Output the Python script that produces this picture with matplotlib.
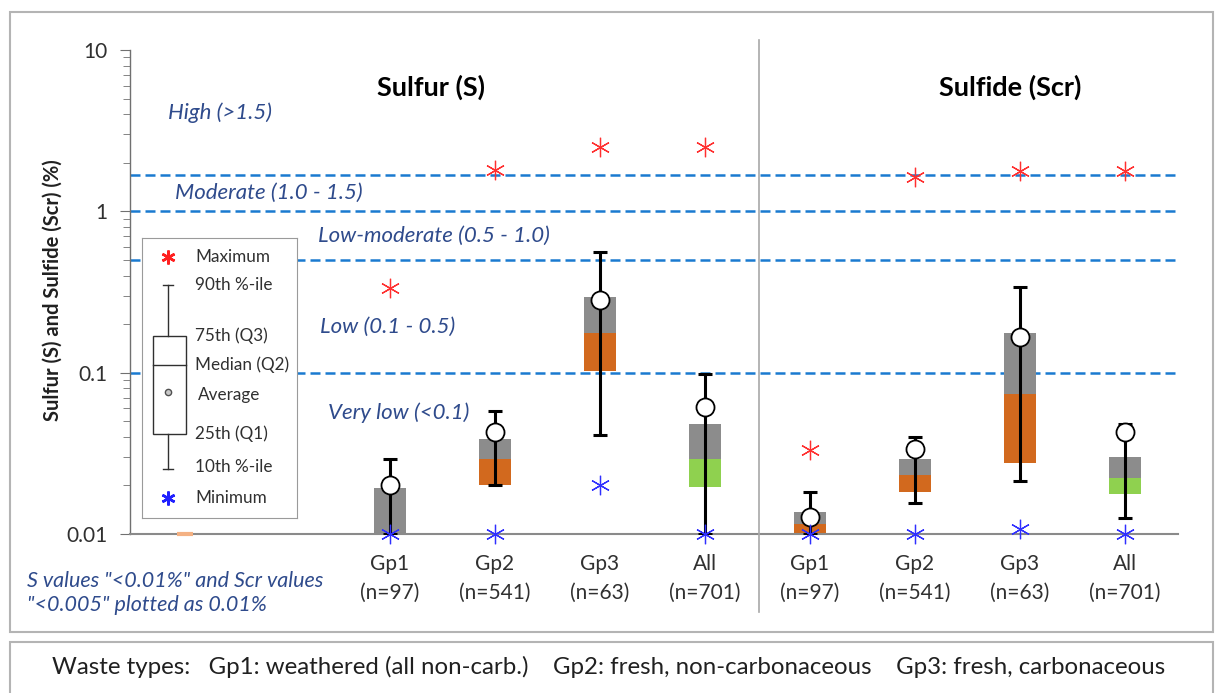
import matplotlib
matplotlib.use("Agg")
import matplotlib.pyplot as plt
import matplotlib.patches as mpatches
import matplotlib.transforms as mtransforms
from matplotlib.lines import Line2D

plt.rcParams["font.family"] = ["Lato", "DejaVu Sans"]

# data (percent)
groups = ["Gp1", "Gp2", "Gp3", "All"]
counts = ["(n=97)", "(n=541)", "(n=63)", "(n=701)"]

s_min = [0.01, 0.01, 0.02, 0.01]
s_p10 = [0.01, 0.02, 0.041, 0.01]
s_q1 = [0.01, 0.02, 0.103, 0.0195]
s_med = [0.01, 0.029, 0.175, 0.029]
s_q3 = [0.0194, 0.039, 0.295, 0.048]
s_p90 = [0.029, 0.058, 0.557, 0.0975]
s_avg = [0.02, 0.043, 0.284, 0.0614]
s_max = [0.335, 1.81, 2.49, 2.49]

scr_min = [0.01, 0.01, 0.0107, 0.01]
scr_p10 = [0.01, 0.0156, 0.0213, 0.0126]
scr_q1 = [0.01, 0.0183, 0.0276, 0.0176]
scr_med = [0.0116, 0.0231, 0.074, 0.0221]
scr_q3 = [0.0136, 0.029, 0.175, 0.0301]
scr_p90 = [0.0183, 0.040, 0.34, 0.048]
scr_avg = [0.0127, 0.0337, 0.167, 0.0428]
scr_max = [0.033, 1.63, 1.77, 1.77]

class_lines = [1.67, 1.0, 0.5, 0.1]
class_labels = ["High (>1.5)", "Moderate (1.0 - 1.5)", "Low-moderate (0.5 - 1.0)",
                "Low (0.1 - 0.5)", "Very low (<0.1)"]

GRAY = "#8c8c8c"
ORANGE = "#d2691e"
GREEN = "#8fd14f"
DASH = "#1a7ad0"
NAVY = "#2f4b8c"
STAR = (6, 2, 0)

W, H = 1216, 693
fig = plt.figure(figsize=(W / 100, H / 100), dpi=100)


def fx(px):
    return px / W


def fy(py):
    return 1 - py / H


# outer frames
fig.patches.append(mpatches.Rectangle((fx(10), fy(632)), fx(1203), 620 / H, transform=fig.transFigure,
                                      fill=False, ec="#b4b4b4", lw=1.5))
fig.patches.append(mpatches.Rectangle((fx(10), fy(700)), fx(1203), 58 / H, transform=fig.transFigure,
                                      fill=False, ec="#b4b4b4", lw=1.5))

ax = fig.add_axes([fx(130), fy(534), fx(1178 - 130), (534 - 50) / H])
ax.set_yscale("log")
ax.set_ylim(0.01, 10)
ax.set_xlim(-2.476, 7.505)

for sp in ["top", "right"]:
    ax.spines[sp].set_visible(False)
ax.spines["bottom"].set_color("#8a8a8a")
ax.spines["left"].set_color("#707070")
ax.spines["bottom"].set_linewidth(1.5)
ax.spines["left"].set_linewidth(1.0)

ax.set_yticks([0.01, 0.1, 1, 10])
ax.set_yticklabels(["0.01", "0.1", "1", "10"], fontsize=15, color="#303030")
ax.tick_params(axis="y", which="major", length=7, color="#707070", pad=9)
ax.tick_params(axis="y", which="minor", length=5, color="#707070")
ax.set_xticks([])

fig.text(fx(53), fy(290), "Sulfur (S) and Sulfide (Scr) (%)", rotation=90, ha="center", va="center",
         fontsize=14.5, fontweight="bold", color="#202020")

for v in class_lines:
    ax.axhline(v, color=DASH, lw=1.8, ls=(0, (4, 2)), zorder=1)

# small orange dummy mark on the axis
ax.plot([-1.95], [0.01], marker="_", color="#f4b183", ms=12, mew=3, clip_on=False, zorder=5)

xfig = mtransforms.blended_transform_factory(ax.transData, fig.transFigure)


def draw_set(offset, mn, p10, q1, med, q3, p90, avg, mx):
    xs = [offset + i for i in range(len(groups))]
    low_colors = [ORANGE, ORANGE, ORANGE, GREEN]
    for i, x in enumerate(xs):
        ax.bar(x, med[i] - q1[i], bottom=q1[i], width=0.3, color=low_colors[i], zorder=2)
        ax.bar(x, q3[i] - med[i], bottom=med[i], width=0.3, color=GRAY, zorder=2)
        mid = (p10[i] + p90[i]) / 2
        ax.errorbar(x, mid, yerr=[[mid - p10[i]], [p90[i] - mid]],
                    fmt="none", ecolor="black", elinewidth=2.2, capsize=5, capthick=2.2, zorder=3)
    ax.plot(xs, avg, ls="none", marker="o", ms=13, mfc="white", mec="black", mew=1.3, zorder=4)
    ax.plot(xs, mx, ls="none", marker=STAR, ms=14, mec="#ff3030", mew=0.9, zorder=5)
    ax.plot(xs, mn, ls="none", marker=STAR, ms=14, mec="#3030ff", mew=0.9, zorder=5, clip_on=False)
    for i, x in enumerate(xs):
        ax.text(x, fy(564), groups[i], transform=xfig, ha="center", va="center", fontsize=15,
                color="#303030")
        ax.text(x, fy(593), counts[i], transform=xfig, ha="center", va="center", fontsize=15,
                color="#303030")


draw_set(0, s_min, s_p10, s_q1, s_med, s_q3, s_p90, s_avg, s_max)
draw_set(4, scr_min, scr_p10, scr_q1, scr_med, scr_q3, scr_p90, scr_avg, scr_max)

# separator
fig.add_artist(Line2D([fx(759), fx(759)], [fy(40), fy(612)], color="#a8a8a8", lw=1.2))

fig.text(fx(431), fy(87), "Sulfur (S)", ha="center", va="center", fontsize=19.5, fontweight="bold")
fig.text(fx(1010), fy(87), "Sulfide (Scr)", ha="center", va="center", fontsize=19.5, fontweight="bold")

label_pos = [(168, 113), (175, 193), (318, 236), (320, 327), (328, 413)]
for (px, py), lab in zip(label_pos, class_labels):
    fig.text(fx(px), fy(py), lab, ha="left", va="center", fontsize=16, style="italic", color=NAVY)

fig.text(fx(27), fy(593), 'S values "<0.01%" and Scr values\n"<0.005" plotted as 0.01%',
         ha="left", va="center", fontsize=15.5, style="italic", color=NAVY, linespacing=1.2)

# key box
lg = fig.add_axes([fx(142), fy(518), fx(155), 280 / H])
lg.set_xlim(142, 297)
lg.set_ylim(518, 238)
lg.set_xticks([])
lg.set_yticks([])
for sp in lg.spines.values():
    sp.set_color("#9a9a9a")
lg.plot([168], [257], marker=STAR, ms=10, mec="#ff2020", mew=1.8)
lg.plot([168], [498], marker=STAR, ms=10, mec="#2020ff", mew=1.8)
lg.plot([168, 168], [285, 336], color="#303030", lw=1)
lg.plot([168, 168], [434, 469], color="#303030", lw=1)
lg.plot([163, 173], [285, 285], color="#303030", lw=1)
lg.plot([163, 173], [469, 469], color="#303030", lw=1)
lg.add_patch(mpatches.Rectangle((152.7, 336), 33.3, 98, fill=False, ec="#303030", lw=1))
lg.plot([152.7, 186], [365, 365], color="#303030", lw=1)
lg.plot([168], [392], marker="o", ms=4.5, mfc="#c8c8c8", mec="#505050", mew=1)
key_text = [("Maximum", 257), ("90th %-ile", 285), ("75th (Q3)", 336), ("Median (Q2)", 365),
            ("Average", 395), ("25th (Q1)", 434), ("10th %-ile", 467), ("Minimum", 498)]
for t, py in key_text:
    lg.text(195 if t != "Average" else 198, py, t, ha="left", va="center", fontsize=12.3, color="#303030")

fig.text(fx(52), fy(667),
         "Waste types:   Gp1: weathered (all non-carb.)    Gp2: fresh, non-carbonaceous    Gp3: fresh, carbonaceous",
         ha="left", va="center", fontsize=17.3, color="#202020")

fig.savefig("out.png", dpi=100)
